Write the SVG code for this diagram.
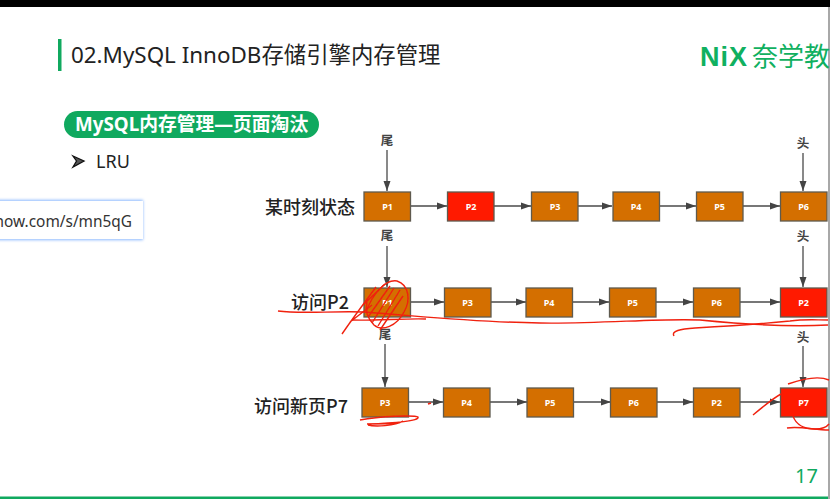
<svg xmlns="http://www.w3.org/2000/svg" width="830" height="499" viewBox="0 0 830 499">
<defs>
<marker id="ah" markerUnits="userSpaceOnUse" markerWidth="10" markerHeight="8" refX="10" refY="4" orient="auto"><path d="M0 0.5L10 4L0 7.5Z" fill="#444"/></marker>
<filter id="blur"><feGaussianBlur stdDeviation="0.3"/></filter>
<filter id="glow" x="-5%" y="-20%" width="110%" height="140%"><feGaussianBlur stdDeviation="1.5"/></filter>
</defs>
<style>
text{font-family:"Noto Sans","Noto Sans CJK SC",sans-serif}
.pg rect{stroke:#5f5a4e;stroke-width:1.3}
.o rect{fill:#d46f00}
.r rect{fill:#ff1a00}
.pg text{font-size:9px;font-weight:700;fill:#fff;text-anchor:middle}
.lbl{font-size:12.500px;font-weight:700;fill:#444;text-anchor:middle;font-family:"Noto Sans CJK SC",sans-serif}
.row{font-size:18px;font-weight:500;fill:#222;text-anchor:end;font-family:"Noto Sans CJK SC",sans-serif}
#connectors path{fill:none;stroke:#4a4a4a;stroke-width:1.3;marker-end:url(#ah)}
#ink path{fill:none;stroke:#f0200f;stroke-width:1.4}
</style>
<rect width="830" height="499" fill="#fff"/>
<rect width="830" height="7" fill="#000"/>
<rect x="828" y="7" width="2" height="492" fill="#a8a8a8"/>
<rect x="0" y="496.500" width="828" height="2.500" fill="#10a95f"/>
<rect x="58" y="39" width="3.500" height="32" fill="#10a95f"/>
<text x="71" y="63" font-size="22.400" fill="#222">02.MySQL InnoDB存储引擎内存管理</text>
<g id="logo" fill="#10b060">
<text x="700" y="66" font-size="27" font-weight="700" style="font-family:'Liberation Sans',sans-serif;letter-spacing:1px">NiX</text>
<text x="752" y="66" font-size="26" font-weight="400" style="font-family:'Noto Sans CJK SC',sans-serif">奈学教</text>
</g>
<g id="badge">
<rect x="64" y="111" width="255" height="27" rx="13.500" fill="#10a95f"/>
<text x="75" y="131" font-size="18.800" font-weight="700" fill="#fff">MySQL内存管理—页面淘汰</text>
</g>
<path d="M73 156L84 161L73 167L76.500 161Z" fill="#555" stroke="#111" stroke-width="1.3"/>
<text x="96" y="168" font-size="18" fill="#222">LRU</text>
<g id="tooltip">
<rect x="-6" y="200" width="149" height="40" fill="#8ab8ff" filter="url(#glow)"/>
<rect x="-6" y="201" width="149" height="38" fill="#fff"/>
<text x="132" y="227" font-size="15.400" fill="#333" text-anchor="end">now.com/s/mn5qG</text>
</g>
<text class="row" x="355" y="214">某时刻状态</text>
<text class="row" x="349" y="309">访问P2</text>
<text class="row" x="348" y="413">访问新页P7</text>
<g id="connectors">
<path d="M387 150V191"/><path d="M803 153V191"/>
<path d="M411 206H447"/><path d="M494 206H531"/><path d="M578 206H612"/><path d="M660 206H696"/><path d="M743 206H780"/>
<path d="M387 246V287"/><path d="M803 246V287"/>
<path d="M411 302H444"/><path d="M491 302H526"/><path d="M573 302H609"/><path d="M656 302H693"/><path d="M740 302H780"/>
<path d="M385 344V387"/><path d="M803 346V387"/>
<path d="M408 402H443"/><path d="M490 402H527"/><path d="M573 402H611"/><path d="M657 402H693"/><path d="M740 402H780"/>
</g>
<text class="lbl" x="387" y="145">尾</text><text class="lbl" x="803" y="148">头</text>
<text class="lbl" x="387" y="240">尾</text><text class="lbl" x="803" y="241">头</text>
<text class="lbl" x="385" y="339">尾</text><text class="lbl" x="803" y="342">头</text>
<g id="r1-p1" class="pg o"><rect x="364" y="192" width="46.500" height="29"/><text x="387.500" y="209.500">P1</text></g>
<g id="r1-p2" class="pg r"><rect x="447.500" y="192" width="46.500" height="29"/><text x="471" y="209.500">P2</text></g>
<g id="r1-p3" class="pg o"><rect x="531.500" y="192" width="46.500" height="29"/><text x="555" y="209.500">P3</text></g>
<g id="r1-p4" class="pg o"><rect x="613" y="192" width="46.500" height="29"/><text x="636" y="209.500">P4</text></g>
<g id="r1-p5" class="pg o"><rect x="696.500" y="192" width="46.500" height="29"/><text x="719.500" y="209.500">P5</text></g>
<g id="r1-p6" class="pg o"><rect x="780.500" y="192" width="46.500" height="29"/><text x="803.500" y="209.500">P6</text></g>
<g id="r2-p1" class="pg o"><rect x="364" y="288" width="46.500" height="29"/><text x="387.500" y="305.500">P1</text></g>
<g id="r2-p3" class="pg o"><rect x="444.500" y="288" width="46.500" height="29"/><text x="467.500" y="305.500">P3</text></g>
<g id="r2-p4" class="pg o"><rect x="526" y="288" width="46.500" height="29"/><text x="549" y="305.500">P4</text></g>
<g id="r2-p5" class="pg o"><rect x="609.500" y="288" width="46.500" height="29"/><text x="632.500" y="305.500">P5</text></g>
<g id="r2-p6" class="pg o"><rect x="693.500" y="288" width="46.500" height="29"/><text x="716.500" y="305.500">P6</text></g>
<g id="r2-p2" class="pg r"><rect x="780.500" y="288" width="46.500" height="29"/><text x="803.500" y="305.500">P2</text></g>
<g id="r3-p3" class="pg o"><rect x="362" y="388" width="46.500" height="29"/><text x="385" y="405.500">P3</text></g>
<g id="r3-p4" class="pg o"><rect x="443.500" y="388" width="46.500" height="29"/><text x="466.500" y="405.500">P4</text></g>
<g id="r3-p5" class="pg o"><rect x="527" y="388" width="46.500" height="29"/><text x="550" y="405.500">P5</text></g>
<g id="r3-p6" class="pg o"><rect x="610.500" y="388" width="46.500" height="29"/><text x="633.500" y="405.500">P6</text></g>
<g id="r3-p2" class="pg o"><rect x="693.500" y="388" width="46.500" height="29"/><text x="716.500" y="405.500">P2</text></g>
<g id="r3-p7" class="pg r"><rect x="780.500" y="388" width="46.500" height="29"/><text x="803.500" y="405.500">P7</text></g>
<g id="ink" filter="url(#blur)">
<path d="M278 311C300 314 330 311 364 312C420 316 470 322 540 323C600 324 660 318 700 320C740 324 790 327 828 325"/>
<path d="M674 336C671 331 680 329 695 328C730 326 770 323 790 321C805 319 815 320 828 320"/>
<path d="M366 312C372 295 385 279 397 281C409 285 411 300 404 312C397 326 382 332 374 325C367 318 365 310 367 302"/>
<path d="M342 334C355 315 368 298 376 287M368 317L390 286M372 323L394 288M378 326L400 290M380 330L403 296M362 306L385 284M350 322L372 305"/>
<path d="M352 320C370 321 410 318 426 319"/>
<path d="M360 420C380 416 415 415 418 417C420 421 395 423 367 424C385 424 400 424 403 421C395 426 375 427 368 425"/>
<path d="M428 404L431 403"/>
<path d="M753 415C765 405 775 397 781 394"/>
<path d="M788 384C805 378 820 376 829 380"/>
<path d="M793 416C796 425 805 429 815 429C820 429 826 428 829 424"/>
<path d="M787 428C800 426 815 430 829 430"/>
</g>
<text x="795" y="483" font-size="20" fill="#10a95f">17</text>
</svg>
